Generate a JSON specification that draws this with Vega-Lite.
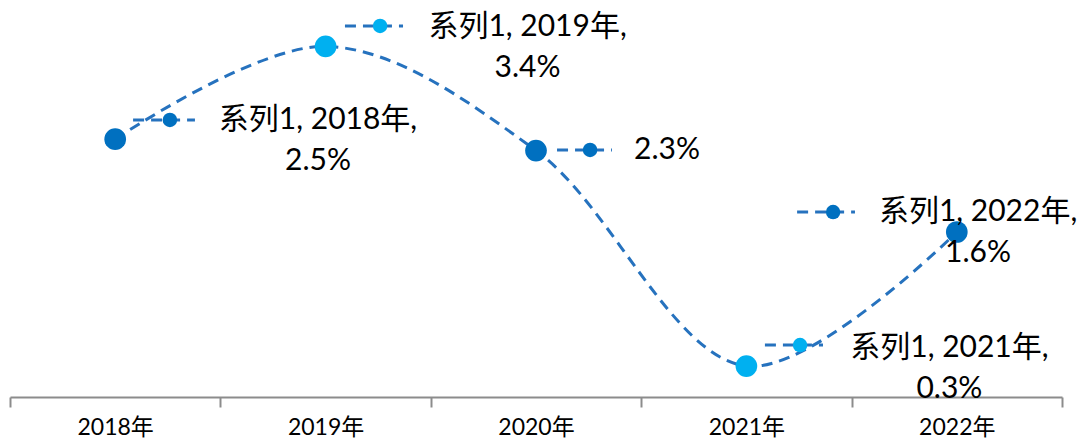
{
  "$schema": "https://vega.github.io/schema/vega-lite/v6.json",
  "width": 1052,
  "height": 397,
  "autosize": "none",
  "padding": {"left": 10, "top": 0, "right": 18, "bottom": 46},
  "background": "white",
  "config": {
    "view": {"stroke": null},
    "font": "Lato, 'Noto Sans CJK SC', sans-serif"
  },
  "data": {
    "values": [
      {"year": "2018年", "pos": 0, "value": 2.5, "tone": "dark", "dotX": 0.26, "dotY": 2.687, "segX": 0.085, "segX2": 0.379, "textX": 0.964, "textY": 2.687, "label": "系列1, 2018年,\n2.5%"},
      {"year": "2019年", "pos": 1, "value": 3.4, "tone": "light", "dotX": 1.259, "dotY": 3.598, "segX": 1.092, "segX2": 1.368, "textX": 1.96, "textY": 3.589, "label": "系列1, 2019年,\n3.4%"},
      {"year": "2020年", "pos": 2, "value": 2.39, "tone": "dark", "dotX": 2.257, "dotY": 2.396, "segX": 2.1, "segX2": 2.361, "textX": 2.623, "textY": 2.396, "label": "2.3%"},
      {"year": "2021年", "pos": 3, "value": 0.3, "tone": "light", "dotX": 3.255, "dotY": 0.504, "segX": 3.088, "segX2": 3.364, "textX": 3.965, "textY": 0.475, "label": "系列1, 2021年,\n0.3%"},
      {"year": "2022年", "pos": 4, "value": 1.6, "tone": "dark", "dotX": 3.412, "dotY": 1.794, "segX": 3.241, "segX2": 3.516, "textX": 4.101, "textY": 1.794, "label": "系列1, 2022年,\n1.6%"}
    ]
  },
  "layer": [
    {
      "mark": {"type": "point", "opacity": 0},
      "encoding": {
        "x": {
          "field": "year", "type": "ordinal",
          "scale": {"paddingInner": 0, "paddingOuter": 0},
          "axis": {
            "orient": "bottom", "title": null, "labelAngle": 0,
            "labelFontSize": 23, "labelColor": "#000000", "labelPadding": 9,
            "domainColor": "#8c8c8c", "domainWidth": 2,
            "tickColor": "#8c8c8c", "tickWidth": 2, "tickSize": 10,
            "tickBand": "extent", "grid": false
          }
        },
        "y": {"field": "value", "type": "quantitative", "scale": {"domain": [0, 3.85]}, "axis": null}
      }
    },
    {
      "encoding": {
        "x": {"type": "quantitative", "scale": {"domain": [-0.5, 4.5], "nice": false, "zero": false}, "axis": null},
        "y": {"type": "quantitative", "scale": {"domain": [0, 3.85], "nice": false}, "axis": null}
      },
      "layer": [
        {
          "mark": {"type": "line", "interpolate": "catmull-rom", "color": "#2672BE", "strokeWidth": 3, "strokeDash": [11, 7]},
          "encoding": {
            "x": {"field": "pos", "type": "quantitative"},
            "y": {"field": "value", "type": "quantitative"}
          }
        },
        {
          "mark": {"type": "rule", "color": "#2672BE", "strokeWidth": 3, "strokeDash": [11, 7]},
          "encoding": {
            "x": {"field": "segX", "type": "quantitative"},
            "x2": {"field": "segX2"},
            "y": {"field": "dotY", "type": "quantitative"}
          }
        },
        {
          "mark": {"type": "circle", "opacity": 1},
          "encoding": {
            "x": {"field": "pos", "type": "quantitative"},
            "y": {"field": "value", "type": "quantitative"},
            "size": {"value": 470},
            "color": {"field": "tone", "type": "nominal", "scale": {"domain": ["dark", "light"], "range": ["#0070C0", "#00B0F0"]}, "legend": null}
          }
        },
        {
          "mark": {"type": "circle", "opacity": 1},
          "encoding": {
            "x": {"field": "dotX", "type": "quantitative"},
            "y": {"field": "dotY", "type": "quantitative"},
            "size": {"value": 210},
            "color": {"field": "tone", "type": "nominal", "scale": {"domain": ["dark", "light"], "range": ["#0070C0", "#00B0F0"]}, "legend": null}
          }
        },
        {
          "mark": {"type": "text", "fontSize": 30, "color": "#000000", "align": "center", "baseline": "middle", "lineBreak": "\n", "lineHeight": 41},
          "encoding": {
            "x": {"field": "textX", "type": "quantitative"},
            "y": {"field": "textY", "type": "quantitative"},
            "text": {"field": "label", "type": "nominal"}
          }
        }
      ]
    }
  ],
  "resolve": {"scale": {"x": "independent"}, "axis": {"x": "independent"}}
}
